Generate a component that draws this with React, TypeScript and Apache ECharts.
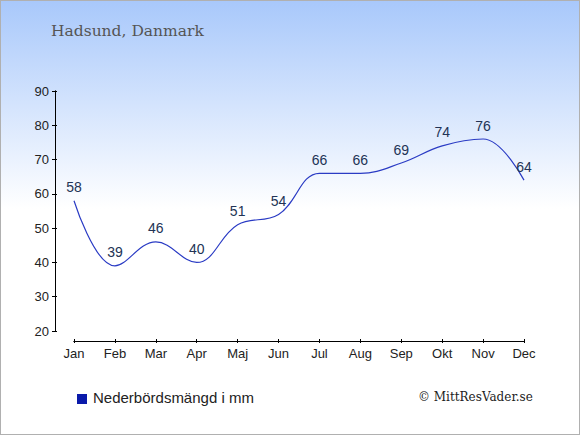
import React, { useEffect, useRef } from "react";
import * as echarts from "echarts";

const months = ["Jan", "Feb", "Mar", "Apr", "Maj", "Jun", "Jul", "Aug", "Sep", "Okt", "Nov", "Dec"];
const precipitation = [58, 39, 46, 40, 51, 54, 66, 66, 69, 74, 76, 64];
const title = "Hadsund, Danmark";
const legendLabel = "Nederbördsmängd i mm";
const credit = "© MittResVader.se";

const sans = "Liberation Sans, Arial, sans-serif";

export default function App() {
  const ref = useRef<HTMLDivElement>(null);
  useEffect(() => {
    document.body.style.margin = "0";
    const chart = echarts.init(ref.current!, undefined, { renderer: "svg" });
    const baseX = {
      type: "category",
      data: months,
      boundaryGap: false,
      offset: 10,
      axisLine: { lineStyle: { color: "#000", width: 1 } },
      splitLine: { show: false },
    };
    const baseY = {
      type: "value",
      min: 20,
      max: 90,
      interval: 10,
      offset: 19,
      axisLine: { show: true, lineStyle: { color: "#000", width: 1 } },
      splitLine: { show: false },
    };
    chart.setOption({
      animation: false,
      graphic: [
        {
          type: "rect",
          z: -10,
          shape: { x: 0, y: 0, width: 580, height: 435 },
          style: {
            fill: new echarts.graphic.LinearGradient(0, 0, 0, 1, [
              { offset: 0, color: "#a8c8fb" },
              { offset: 0.48, color: "#ffffff" },
              { offset: 1, color: "#ffffff" },
            ]),
            stroke: "#b0b0b0",
            lineWidth: 2,
          },
        },
        {
          type: "text",
          left: 51,
          top: 23,
          style: { text: title, font: '15.5px "DejaVu Serif", serif', fill: "#555555" },
        },
        {
          type: "rect",
          shape: { x: 77, y: 394, width: 10, height: 10 },
          style: { fill: "#0a1aaa" },
        },
        {
          type: "text",
          left: 93,
          top: 390,
          style: { text: legendLabel, font: '15px "Liberation Sans", Arial, sans-serif', fill: "#222222" },
        },
        {
          type: "text",
          left: 418,
          top: 391,
          style: { text: credit, font: '12px "DejaVu Serif", serif', fill: "#222222" },
        },
      ],
      grid: { left: 74, right: 56, top: 91, bottom: 104 },
      xAxis: [
        {
          ...baseX,
          axisTick: { alignWithLabel: true, length: 2, lineStyle: { color: "#000" } },
          axisLabel: { color: "#222", fontSize: 13, fontFamily: sans, margin: 6 },
        },
        {
          ...baseX,
          position: "bottom",
          axisTick: { alignWithLabel: true, length: 2, inside: true, lineStyle: { color: "#000" } },
          axisLabel: { show: false },
        },
      ],
      yAxis: [
        {
          ...baseY,
          axisTick: { show: true, length: 3, lineStyle: { color: "#000" } },
          axisLabel: { color: "#222", fontSize: 13, fontFamily: sans, margin: 6 },
        },
        {
          ...baseY,
          position: "left",
          axisTick: { show: true, length: 2, inside: true, lineStyle: { color: "#000" } },
          axisLabel: { show: false },
        },
      ],
      series: [
        {
          type: "line",
          data: precipitation,
          smooth: 0.4,
          symbol: "circle",
          symbolSize: 1,
          itemStyle: { color: "rgba(0,0,0,0)" },
          lineStyle: { color: "#2a3bc4", width: 1.2 },
          label: {
            show: true,
            position: "top",
            distance: 6,
            color: "#223355",
            fontSize: 14,
            fontFamily: sans,
          },
        },
      ],
    });
    return () => chart.dispose();
  }, []);
  return <div ref={ref} style={{ width: 580, height: 435, position: "absolute", left: 0, top: 0 }} />;
}
